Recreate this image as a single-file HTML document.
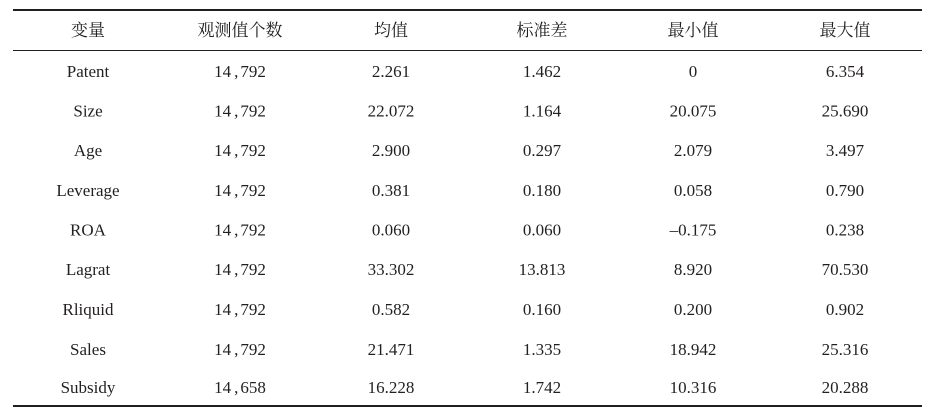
<!DOCTYPE html>
<html>
<head>
<meta charset="utf-8">
<style>
  html, body { margin: 0; padding: 0; background: #ffffff; }
  body { width: 931px; height: 418px; overflow: hidden; }
  svg { display: block; }
  .t { font-family: "Liberation Serif", "Noto Serif CJK SC", serif; font-size: 17px; fill: #231f20; }
  .h { font-family: "Liberation Serif", "Noto Serif CJK SC", serif; font-size: 17px; fill: #231f20; }
</style>
</head>
<body>
<svg width="931" height="418" viewBox="0 0 931 418" xmlns="http://www.w3.org/2000/svg">
  <rect x="0" y="0" width="931" height="418" fill="#ffffff"/>
  <!-- rules -->
  <rect x="13" y="9" width="909" height="2" fill="#231f20"/>
  <rect x="13" y="50" width="909" height="1" fill="#231f20"/>
  <rect x="13" y="405" width="909" height="2" fill="#231f20"/>

  <!-- header -->
  <g class="h" text-anchor="middle">
    <text x="88" y="36">变量</text>
    <text x="240" y="36">观测值个数</text>
    <text x="391" y="36">均值</text>
    <text x="542" y="36">标准差</text>
    <text x="693" y="36">最小值</text>
    <text x="845" y="36">最大值</text>
  </g>

  <g class="t" text-anchor="middle">
    <!-- Patent -->
    <text x="88" y="77">Patent</text>
    <text x="240" y="77">14<tspan dx="3">,</tspan><tspan dx="2">792</tspan></text>
    <text x="391" y="77">2.261</text>
    <text x="542" y="77">1.462</text>
    <text x="693" y="77">0</text>
    <text x="845" y="77">6.354</text>

    <!-- Size -->
    <text x="88" y="116.5">Size</text>
    <text x="240" y="116.5">14<tspan dx="3">,</tspan><tspan dx="2">792</tspan></text>
    <text x="391" y="116.5">22.072</text>
    <text x="542" y="116.5">1.164</text>
    <text x="693" y="116.5">20.075</text>
    <text x="845" y="116.5">25.690</text>

    <!-- Age -->
    <text x="88" y="156">Age</text>
    <text x="240" y="156">14<tspan dx="3">,</tspan><tspan dx="2">792</tspan></text>
    <text x="391" y="156">2.900</text>
    <text x="542" y="156">0.297</text>
    <text x="693" y="156">2.079</text>
    <text x="845" y="156">3.497</text>

    <!-- Leverage -->
    <text x="88" y="196">Leverage</text>
    <text x="240" y="196">14<tspan dx="3">,</tspan><tspan dx="2">792</tspan></text>
    <text x="391" y="196">0.381</text>
    <text x="542" y="196">0.180</text>
    <text x="693" y="196">0.058</text>
    <text x="845" y="196">0.790</text>

    <!-- ROA -->
    <text x="88" y="235.5">ROA</text>
    <text x="240" y="235.5">14<tspan dx="3">,</tspan><tspan dx="2">792</tspan></text>
    <text x="391" y="235.5">0.060</text>
    <text x="542" y="235.5">0.060</text>
    <text x="693" y="235.5">–0.175</text>
    <text x="845" y="235.5">0.238</text>

    <!-- Lagrat -->
    <text x="88" y="275">Lagrat</text>
    <text x="240" y="275">14<tspan dx="3">,</tspan><tspan dx="2">792</tspan></text>
    <text x="391" y="275">33.302</text>
    <text x="542" y="275">13.813</text>
    <text x="693" y="275">8.920</text>
    <text x="845" y="275">70.530</text>

    <!-- Rliquid -->
    <text x="88" y="315">Rliquid</text>
    <text x="240" y="315">14<tspan dx="3">,</tspan><tspan dx="2">792</tspan></text>
    <text x="391" y="315">0.582</text>
    <text x="542" y="315">0.160</text>
    <text x="693" y="315">0.200</text>
    <text x="845" y="315">0.902</text>

    <!-- Sales -->
    <text x="88" y="355">Sales</text>
    <text x="240" y="355">14<tspan dx="3">,</tspan><tspan dx="2">792</tspan></text>
    <text x="391" y="355">21.471</text>
    <text x="542" y="355">1.335</text>
    <text x="693" y="355">18.942</text>
    <text x="845" y="355">25.316</text>

    <!-- Subsidy -->
    <text x="88" y="393">Subsidy</text>
    <text x="240" y="393">14<tspan dx="3">,</tspan><tspan dx="2">658</tspan></text>
    <text x="391" y="393">16.228</text>
    <text x="542" y="393">1.742</text>
    <text x="693" y="393">10.316</text>
    <text x="845" y="393">20.288</text>
  </g>
</svg>
</body>
</html>
